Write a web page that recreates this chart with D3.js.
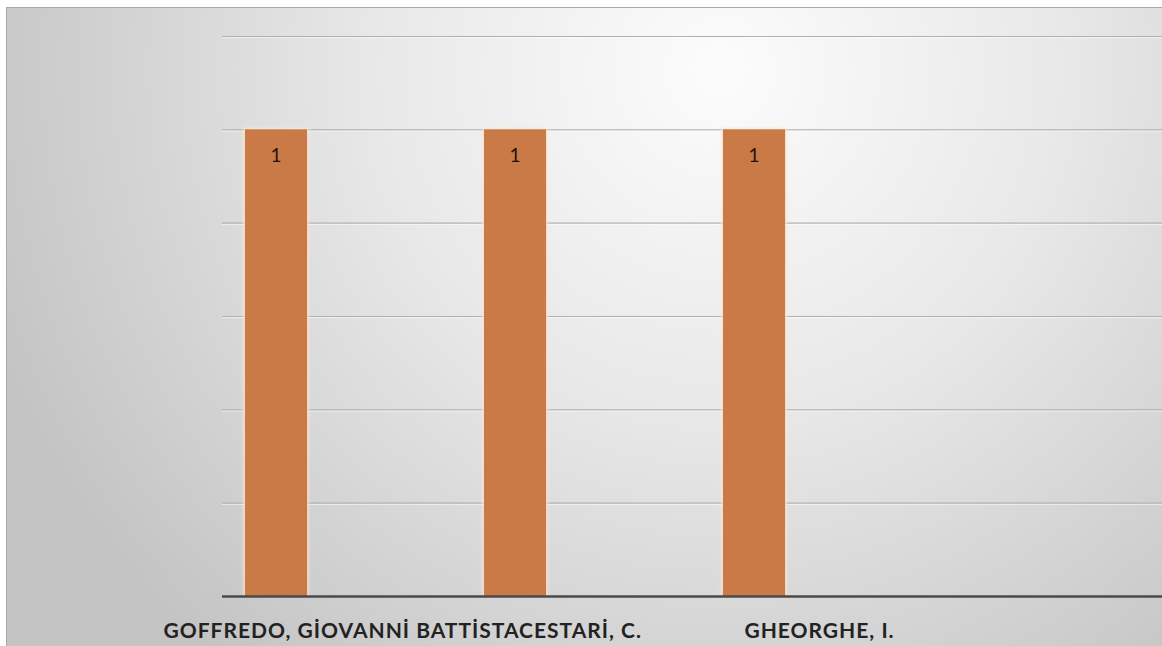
<!DOCTYPE html>
<html>
<head>
<meta charset="utf-8">
<script src="https://cdn.jsdelivr.net/npm/d3@7"></script>
<style>
  html, body { margin: 0; padding: 0; background: #ffffff; }
  svg { display: block; }
</style>
</head>
<body>
<svg id="chart" width="1162" height="646"></svg>
<script>
// Chart data
const categories = ["GOFFREDO, GİOVANNİ BATTİSTA", "CESTARİ, C.", "GHEORGHE, I."];
const values = [1, 1, 1];
const yTicks = [0, 0.2, 0.4, 0.6, 0.8, 1, 1.2];

const W = 1162, H = 646;
const svg = d3.select("#chart");

// Background panel with a soft radial sheen
const defs = svg.append("defs");
const grad = defs.append("radialGradient")
  .attr("id", "bg")
  .attr("gradientUnits", "userSpaceOnUse")
  .attr("cx", 720).attr("cy", 70).attr("r", 770);
grad.append("stop").attr("offset", 0).attr("stop-color", "#fcfcfc");
grad.append("stop").attr("offset", 0.45).attr("stop-color", "#e8e8e8");
grad.append("stop").attr("offset", 1).attr("stop-color", "#c4c4c4");

const glow = defs.append("filter").attr("id", "glow")
  .attr("x", "-20%").attr("y", "-5%").attr("width", "140%").attr("height", "110%");
glow.append("feGaussianBlur").attr("stdDeviation", 1.6);

svg.append("rect")
  .attr("x", 6.5).attr("y", 7.5)
  .attr("width", W).attr("height", H)
  .attr("fill", "url(#bg)")
  .attr("stroke", "#a9a9a9")
  .attr("stroke-width", 1);

// Scales
const plotLeft = 222, plotRight = W + 10;
const step = 239;
const x = d3.scaleBand()
  .domain(categories)
  .range([plotLeft, plotLeft + step * categories.length])
  .paddingInner(0).paddingOuter(0);
const y = d3.scaleLinear().domain([0, 1.2]).range([596, 36]);

// Horizontal gridlines
const grid = svg.append("g");
grid.selectAll("line.g1")
  .data(yTicks.filter(d => d > 0))
  .join("line")
  .attr("x1", plotLeft).attr("x2", plotRight)
  .attr("y1", d => y(d) + 0.5).attr("y2", d => y(d) + 0.5)
  .attr("stroke", "#b0b0b0").attr("stroke-width", 1.2);
grid.selectAll("line.g2")
  .data(yTicks.filter(d => d > 0))
  .join("line")
  .attr("x1", plotLeft).attr("x2", plotRight)
  .attr("y1", d => y(d) + 1.7).attr("y2", d => y(d) + 1.7)
  .attr("stroke", "#ffffff").attr("stroke-opacity", 0.6).attr("stroke-width", 1);

// Bars sit at the left of each category slot
const barW = x.bandwidth() * 0.26;
const barOff = x.bandwidth() * 0.096;

const bars = svg.append("g");
bars.selectAll("rect.halo")
  .data(categories)
  .join("rect")
  .attr("x", (d) => x(d) + barOff - 1.5)
  .attr("y", (d, i) => y(values[i]) - 1.5)
  .attr("width", barW + 3)
  .attr("height", (d, i) => y(0) - y(values[i]) + 1.5)
  .attr("fill", "#fde6d2")
  .attr("opacity", 0.9)
  .attr("filter", "url(#glow)");
bars.selectAll("rect.bar")
  .data(categories)
  .join("rect")
  .attr("x", (d) => x(d) + barOff)
  .attr("y", (d, i) => y(values[i]))
  .attr("width", barW)
  .attr("height", (d, i) => y(0) - y(values[i]))
  .attr("fill", "#c97a47");

// Value labels inside the bar tops
bars.selectAll("text.val")
  .data(categories)
  .join("text")
  .attr("x", (d) => x(d) + barOff + barW / 2)
  .attr("y", (d, i) => y(values[i]) + 33)
  .attr("text-anchor", "middle")
  .attr("font-family", "Lato, 'Open Sans', sans-serif")
  .attr("font-size", 19)
  .attr("fill", "#1e140c")
  .text((d, i) => values[i]);

// Category axis baseline
svg.append("line")
  .attr("x1", plotLeft).attr("x2", plotRight)
  .attr("y1", y(0) + 0.5).attr("y2", y(0) + 0.5)
  .attr("stroke", "#4a4a4a").attr("stroke-width", 2.6);

// Category labels centred in each slot
const xAxis = d3.axisBottom(x).tickSize(0).tickPadding(0);
const axisG = svg.append("g")
  .attr("transform", `translate(0, ${y(0)})`)
  .call(xAxis);
axisG.select(".domain").remove();
axisG.selectAll("text")
  .attr("y", 42)
  .attr("dy", 0)
  .attr("font-family", "Lato, 'Open Sans', sans-serif")
  .attr("font-weight", "bold")
  .attr("font-size", 21)
  .attr("letter-spacing", 1)
  .attr("fill", "#222222");
</script>
</body>
</html>
